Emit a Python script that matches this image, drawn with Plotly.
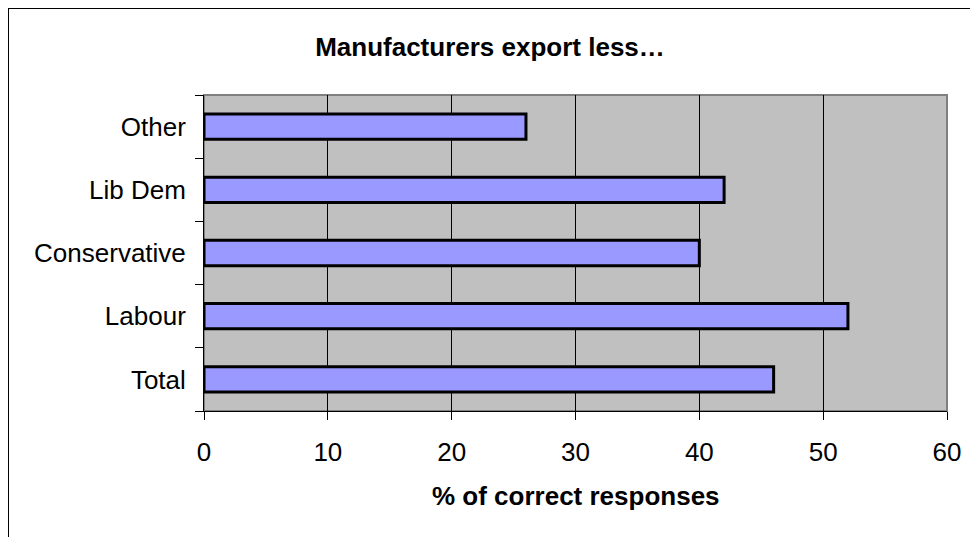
import plotly.graph_objects as go

categories = ["Total", "Labour", "Conservative", "Lib Dem", "Other"]
values = [46, 52, 40, 42, 26]
x_ticks = [0, 10, 20, 30, 40, 50, 60]

title_text = "Manufacturers export less…"
x_title = "% of correct responses"

OFF = 8  # browser body margin
W, H = 978 - OFF, 537 - OFF
L, R, T, B = 204 - OFF, 978 - 947, 95 - OFF, 537 - 411
pw, ph = W - L - R, H - T - B

fig = go.Figure(go.Bar(
    y=categories, x=values, orientation="h",
    marker=dict(color="#9999FF", line=dict(color="black", width=3)),
    width=0.4,
))

FONT = "Liberation Sans, Arial, sans-serif"
FS = 26

fig.update_layout(
    width=W, height=H,
    margin=dict(l=L, r=R, t=T, b=B),
    paper_bgcolor="white",
    plot_bgcolor="#C0C0C0",
    font=dict(family=FONT, size=FS, color="black"),
    showlegend=False,
    title=dict(text="<b>" + title_text + "</b>", x=(490 - OFF) / W, xref="container", xanchor="center",
               y=1 - (47 - OFF) / H, yref="container", yanchor="middle",
               font=dict(family=FONT, size=FS, color="black")),
    xaxis=dict(
        range=[0, 60], tickvals=x_ticks, ticktext=[str(v) for v in x_ticks],
        showgrid=True, gridcolor="black", gridwidth=1,
        showline=True, linecolor="black", linewidth=1,
        ticks="outside", ticklen=8, tickcolor="black", tickwidth=1,
        zeroline=False,
        tickfont=dict(size=FS),
        ticklabelstandoff=10,
    ),
    yaxis=dict(
        type="category", categoryorder="array", categoryarray=categories,
        range=[-0.5, 4.5],
        showgrid=False, showline=True, linecolor="black", linewidth=1,
        ticks="outside", ticklen=8, tickcolor="black", tickwidth=1,
        tickson="boundaries",
        tickfont=dict(size=FS),
        ticklabelstandoff=12,
    ),
    annotations=[
        dict(text="<b>" + x_title + "</b>", xref="paper", yref="paper",
             x=0.5, y=-(496 - 411) / ph, xanchor="center", yanchor="middle",
             showarrow=False, font=dict(size=FS, family=FONT, color="black")),
    ],
    shapes=[
        dict(type="rect", xref="paper", yref="paper", x0=0, x1=1, y0=0, y1=1,
             line=dict(color="#808080", width=2), layer="below"),
        dict(type="rect", xref="paper", yref="paper",
             x0=(0 - L) / pw, x1=(W + 20 - L) / pw,
             y0=-(H + 20 - T - ph) / ph, y1=1 + (T - 0) / ph,
             line=dict(color="black", width=2), fillcolor="rgba(0,0,0,0)"),
    ],
)

fig.write_html("out.html")
